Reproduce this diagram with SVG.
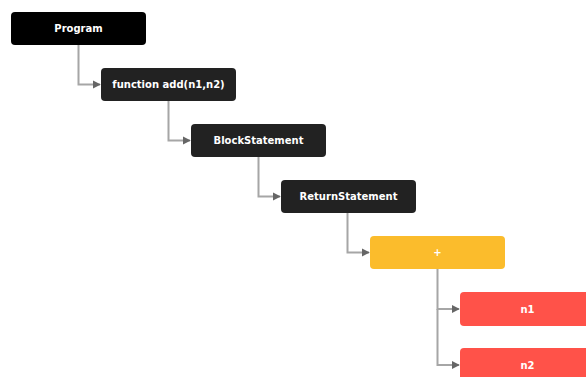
<svg xmlns="http://www.w3.org/2000/svg" width="586" height="377" viewBox="0 0 586 377">
<defs>
<style>
.box{stroke:none}
.t{font-family:"DejaVu Sans",Verdana,sans-serif;font-size:10px;font-weight:bold;fill:#ffffff;text-anchor:middle;dominant-baseline:central}
.c{fill:none;stroke:#a6a6a6;stroke-width:2}
</style>
<marker id="arr" viewBox="0 0 10 10" refX="9" refY="5" markerWidth="8" markerHeight="9" orient="auto" markerUnits="userSpaceOnUse">
<path d="M0,0 L10,5 L0,10 Z" fill="#666666"/>
</marker>
</defs>
<rect width="586" height="377" fill="#ffffff"/>
<g id="connectors">
<path class="c" d="M78.5,45 V84.5 H100" marker-end="url(#arr)"/>
<path class="c" d="M168.5,101 V140.5 H190" marker-end="url(#arr)"/>
<path class="c" d="M258.5,157 V196.5 H280" marker-end="url(#arr)"/>
<path class="c" d="M347.5,213 V252.5 H369" marker-end="url(#arr)"/>
<path class="c" d="M437.5,269 V309 H459" marker-end="url(#arr)"/>
<path class="c" d="M437.5,309 V365 H459" marker-end="url(#arr)"/>
</g>
<g id="program"><rect class="box" x="11" y="12" width="135" height="33" rx="4" fill="#000000"/><text class="t" x="78.5" y="28.5">Program</text></g>
<g id="function"><rect class="box" x="101" y="68" width="135" height="33" rx="4" fill="#222222"/><text class="t" x="168.5" y="84.5">function add(n1,n2)</text></g>
<g id="block"><rect class="box" x="191" y="124" width="135" height="33" rx="4" fill="#222222"/><text class="t" x="258.5" y="140.5">BlockStatement</text></g>
<g id="return"><rect class="box" x="281" y="180" width="135" height="33" rx="4" fill="#222222"/><text class="t" x="348.5" y="196.5">ReturnStatement</text></g>
<g id="plus"><rect class="box" x="370" y="236" width="135" height="33" rx="4" fill="#fbbc2c"/><text class="t" x="437.5" y="252.5">+</text></g>
<g id="n1"><rect class="box" x="460" y="292" width="135" height="34" rx="4" fill="#ff5249"/><text class="t" x="527.5" y="309">n1</text></g>
<g id="n2"><rect class="box" x="460" y="348" width="135" height="34" rx="4" fill="#ff5249"/><text class="t" x="527.5" y="365">n2</text></g>
</svg>
